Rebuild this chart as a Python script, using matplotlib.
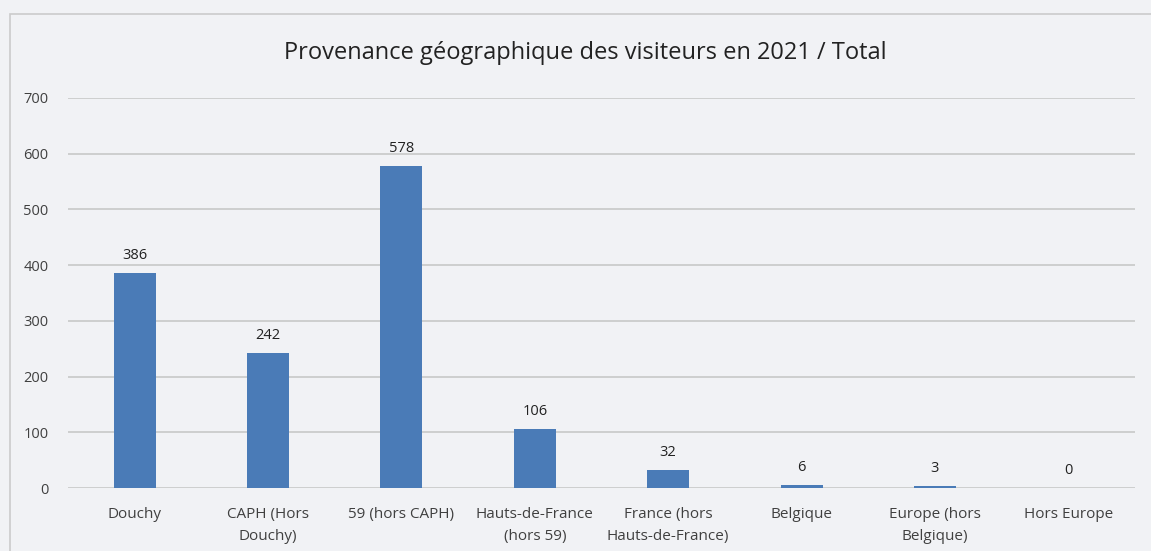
import matplotlib.pyplot as plt
from matplotlib.patches import Rectangle

plt.rcParams['font.family'] = ['Open Sans', 'DejaVu Sans']

categories = ['Douchy', 'CAPH (Hors\nDouchy)', '59 (hors CAPH)', 'Hauts-de-France\n(hors 59)',
              'France (hors\nHauts-de-France)', 'Belgique', 'Europe (hors\nBelgique)', 'Hors Europe']
visitors = [386, 242, 578, 106, 32, 6, 3, 0]
y_ticks = [0, 100, 200, 300, 400, 500, 600, 700]

bg = '#f1f2f5'
fig = plt.figure(figsize=(11.51, 5.51), dpi=100, facecolor=bg)
ax = fig.add_axes([68 / 1151, 63 / 551, 1067 / 1151, 390 / 551], facecolor=bg)

# chart border (cut off on the right and bottom like the screenshot)
fig.patches.append(Rectangle((10 / 1151, -0.1), 1.2, 1 - 14 / 551 + 0.1, transform=fig.transFigure,
                             fill=False, edgecolor='#cbcbcb', linewidth=1.2))

x = range(len(categories))
bars = ax.bar(x, visitors, width=0.315, color='#4a7bb7', zorder=3)
for b, v in zip(bars, visitors):
    ax.text(b.get_x() + b.get_width() / 2, v + 18, str(v), ha='center', va='bottom',
            fontsize=10.5, color='#222222')

ax.set_xlim(-0.5, len(categories) - 0.5)
ax.set_ylim(0, 700)
ax.set_yticks(y_ticks)
ax.set_xticks(list(x))
ax.set_xticklabels(categories, fontsize=11, color='#404040', linespacing=1.6)
ax.tick_params(axis='y', labelsize=10.5, labelcolor='#404040', length=0, pad=14)
ax.tick_params(axis='x', length=0, pad=14)
ax.grid(axis='y', color='#c8c8c8', linewidth=1.2, zorder=0)
for s in ax.spines.values():
    s.set_visible(False)

fig.text(585 / 1151, 1 - 53 / 551, 'Provenance géographique des visiteurs en 2021 / Total',
         ha='center', va='center', fontsize=17, color='#222222')

fig.savefig('out.png', dpi=100, facecolor=bg)
